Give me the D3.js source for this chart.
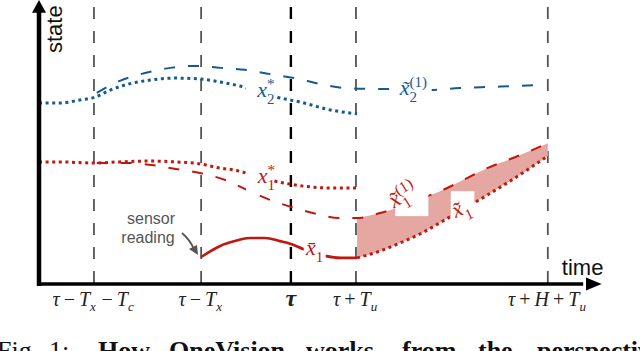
<!DOCTYPE html>
<html>
<head>
<meta charset="utf-8">
<script src="https://cdn.jsdelivr.net/npm/d3@7"></script>
<style>
  body { margin: 0; background: #fff; }
  svg { display: block; }
</style>
</head>
<body>
<div id="chart"></div>
<script>
// time marks on the horizontal axis (time units, axis origin = 0)
const markTimes = [9.8, 28.9, 44.9, 56.5, 90.7];
const markLabels = ['τ−T_x−T_c', 'τ−T_x', 'τ', 'τ+T_u', 'τ+H+T_u'];

// x2* : optimal state 2 (dotted blue)
const x2OptT = [0, 3.7, 7.3, 10.0, 12.7, 16.8, 19.8, 23.9, 28.7, 32.3, 35.8, 39.4, 43.0, 46.5, 51.9, 56.7];
const x2OptS = [63.7, 63.7, 64.8, 65.8, 68.3, 70.8, 71.8, 72.5, 72.2, 71.1, 69.7, 67.6, 65.5, 64.1, 61.3, 59.9];

// x~2^(1) : planned state 2 (dashed blue)
const x2PlanT = [10.3, 14.4, 18.9, 23.4, 27.8, 32.3, 36.7, 41.2, 45.6, 50.1, 54.5, 59.0, 63.5, 69.7, 75.0, 80.4, 84.8, 89.3];
const x2PlanS = [67.3, 71.5, 74.3, 76.1, 76.8, 76.1, 75.4, 73.9, 72.5, 70.4, 69.0, 68.7, 68.7, 68.3, 69.0, 69.4, 69.7, 70.1];

// x1* : optimal state 1 (dotted red)
const x1OptT = [0, 3.7, 9.6, 14.4, 19.8, 24.2, 28.7, 32.3, 34.9, 38.1, 41.2, 44.7, 48.3, 51.9, 56.7];
const x1OptS = [43.0, 43.0, 42.6, 43.0, 43.3, 43.0, 42.3, 40.8, 40.1, 38.4, 36.6, 35.2, 34.2, 33.8, 33.8];

// x~1^(1) : planned state 1 (dashed red)
const x1PlanT = [10.3, 15.9, 20.1, 24.4, 28.7, 33.2, 37.1, 41.2, 45.5, 49.6, 53.5, 56.7, 60.8, 64.3, 67.9, 72.0, 76.3, 79.9, 84.0, 87.5, 90.7];
const x1PlanS = [42.6, 42.6, 41.9, 40.5, 39.1, 36.6, 33.1, 29.6, 26.8, 24.6, 23.2, 23.2, 25.0, 27.1, 29.9, 33.1, 37.3, 40.8, 44.0, 46.8, 49.6];

// x~1 : new prediction of state 1 (dotted red, after tau+Tu)
const x1PredT = [56.7, 60.8, 64.3, 67.9, 72.0, 76.3, 79.9, 84.0, 87.5, 90.7];
const x1PredS = [9.2, 11.6, 14.4, 17.6, 22.2, 27.1, 31.3, 36.3, 40.8, 45.1];

// x-bar 1 : measured state 1 (solid red)
const x1MeasT = [28.9, 32.3, 34.9, 37.6, 40.3, 43.0, 44.9, 47.1, 51.0, 53.7, 56.7];
const x1MeasS = [9.5, 13.4, 15.1, 16.2, 16.2, 15.1, 14.1, 12.3, 9.9, 9.2, 9.2];

const W = 640, H = 351;
const blue = '#175a93', red = '#c0170e', pink = '#e4a7a1', grey = '#555';

const svg = d3.select('#chart').append('svg')
  .attr('width', W)
  .attr('height', H);

const x = d3.scaleLinear().domain([0, 100]).range([39, 600]);
const y = d3.scaleLinear().domain([0, 100]).range([284, 0]);

const zip = (ts, ss) => ts.map((t, i) => ({t: t, s: ss[i]}));
const line = d3.line().x(d => x(d.t)).y(d => y(d.s)).curve(d3.curveMonotoneX);

// vertical dashed marks
svg.append('g').selectAll('line')
  .data(markTimes)
  .enter()
  .append('line')
  .attr('x1', d => x(d)).attr('x2', d => x(d))
  .attr('y1', y(97.5)).attr('y2', y(0))
  .style('stroke', (d, i) => i === 2 ? '#000' : grey)
  .style('stroke-width', (d, i) => i === 2 ? 2.4 : 1.8)
  .style('stroke-dasharray', '12,12');

// shaded band between plan and new prediction
const band = x1PredT.map((t, i) => ({t: t, lo: x1PredS[i], hi: x1PlanS[x1PlanS.length - x1PredT.length + i]}));
svg.append('path')
  .datum(band)
  .attr('d', d3.area().x(d => x(d.t)).y0(d => y(d.lo)).y1(d => y(d.hi)).curve(d3.curveMonotoneX))
  .style('fill', pink)
  .style('stroke', 'none');

const series = [
  {pts: zip(x2OptT, x2OptS), color: blue, dash: '3,3.6', width: 3},
  {pts: zip(x2PlanT, x2PlanS), color: blue, dash: '11,13', width: 2},
  {pts: zip(x1OptT, x1OptS), color: red, dash: '3,3.6', width: 3},
  {pts: zip(x1PlanT, x1PlanS), color: red, dash: '11,13', width: 2},
  {pts: zip(x1PredT, x1PredS), color: red, dash: '3,3.6', width: 3},
  {pts: zip(x1MeasT, x1MeasS), color: red, dash: null, width: 2.6}
];
svg.append('g').selectAll('path')
  .data(series)
  .enter()
  .append('path')
  .attr('d', d => line(d.pts))
  .style('fill', 'none')
  .style('stroke', d => d.color)
  .style('stroke-width', d => d.width)
  .style('stroke-dasharray', d => d.dash);

// curve labels, with white backing boxes
const labels = [
  {base: 'x', sub: '2', sup: '*', t: 38.9, s: 65.8, rot: 0, size: 22, color: blue, box: [36.9, 71.1, 5.0, 11.0]},
  {base: 'x\u0303', sub: '2', sup: '(1)', t: 64.3, s: 66.5, rot: 0, size: 22, color: blue, box: [63.8, 74.6, 6.2, 12.0]},
  {base: 'x', sub: '1', sup: '*', t: 39.0, s: 35.6, rot: 0, size: 22, color: red, box: [36.9, 42.3, 4.8, 10.2]},
  {base: 'x\u0304', sub: '1', sup: null, t: 47.6, s: 10.2, rot: 0, size: 22, color: red, box: [47.2, 16.9, 3.9, 9.5]},
  {base: 'x\u0303', sub: '1', sup: '(1)', t: 63.3, s: 26.6, rot: -32, size: 23, color: red, box: [63.5, 39.4, 5.9, 15.5]},
  {base: 'x\u0303', sub: '1', sup: null, t: 74.3, s: 23.2, rot: -25, size: 22, color: red, box: [73.4, 32.7, 4.2, 10.5]}
];
const mathFont = '"Liberation Serif", "DejaVu Serif", serif';
labels.forEach(l => {
  svg.append('rect')
    .attr('x', x(l.box[0])).attr('y', y(l.box[1]))
    .attr('width', x(l.box[0] + l.box[2]) - x(l.box[0]))
    .attr('height', y(l.box[1] - l.box[3]) - y(l.box[1]))
    .style('fill', '#fff');
  const g = svg.append('g')
    .attr('transform', 'translate(' + [x(l.t), y(l.s)] + ') rotate(' + l.rot + ')')
    .style('font-family', mathFont)
    .style('font-style', 'italic')
    .style('fill', l.color);
  const b = g.append('text').style('font-size', l.size + 'px').text(l.base);
  const w = b.node().getComputedTextLength();
  const small = Math.round(l.size * 0.68) + 'px';
  g.append('text').attr('x', w).attr('y', 7).style('font-size', small).style('font-style', 'normal').text(l.sub);
  if (l.sup) g.append('text').attr('x', w).attr('y', -8).style('font-size', small).style('font-style', 'normal').text(l.sup);
});

// time tick labels
const tickG = svg.append('g')
  .style('font-family', mathFont)
  .style('fill', '#222');
markLabels.forEach((lab, i) => {
  const txt = tickG.append('text')
    .attr('x', x(markTimes[i]))
    .attr('y', 306)
    .attr('text-anchor', 'middle')
    .style('font-size', '20px');
  let k = 0;
  while (k < lab.length) {
    const c = lab[k];
    if (c === '_') {
      txt.append('tspan').attr('dy', 5).style('font-size', '13px').style('font-style', 'italic').text(lab[k + 1]);
      txt.append('tspan').attr('dy', -5).text('\u200a');
      k += 2;
    } else if (c === '−' || c === '+') {
      txt.append('tspan').style('font-style', 'normal').text('\u2009' + c + '\u2009');
      k += 1;
    } else {
      txt.append('tspan')
        .style('font-style', 'italic')
        .style('font-weight', lab === 'τ' ? 'bold' : 'normal')
        .style('font-size', lab === 'τ' ? '24px' : null)
        .text(c);
      k += 1;
    }
  }
});

// axes with arrows
svg.append('line')
  .attr('x1', x(0)).attr('x2', x(0))
  .attr('y1', y(0) + 2).attr('y2', y(96))
  .style('stroke', '#000').style('stroke-width', 4.5);
svg.append('path')
  .attr('d', 'M' + [x(0) - 7, y(95.5)] + 'L' + [x(0), y(100)] + 'L' + [x(0) + 7, y(95.5)] + 'Z')
  .style('fill', '#000');
svg.append('line')
  .attr('x1', x(0) - 2).attr('x2', x(97))
  .attr('y1', y(0)).attr('y2', y(0))
  .style('stroke', '#000').style('stroke-width', 3.6);
svg.append('path')
  .attr('d', 'M' + [x(97.5), y(0) - 6.5] + 'L' + [x(100.3), y(0)] + 'L' + [x(97.5), y(0) + 6.5] + 'Z')
  .style('fill', '#000');

const sans = '"Liberation Sans", Arial, sans-serif';
svg.append('text')
  .attr('transform', 'translate(' + [x(0) + 23, y(0) - 231] + ') rotate(-90)')
  .style('font-family', sans).style('font-size', '22px').style('fill', '#111')
  .text('state');
svg.append('text')
  .attr('x', x(93.2)).attr('y', y(0) - 9)
  .style('font-family', sans).style('font-size', '22px').style('fill', '#111')
  .text('time');

// sensor reading annotation
const note = svg.append('g').style('font-family', sans).style('font-size', '16px').style('fill', grey);
note.append('text').attr('x', 151).attr('y', 224).attr('text-anchor', 'middle').text('sensor');
note.append('text').attr('x', 148).attr('y', 243).attr('text-anchor', 'middle').text('reading');
svg.append('path')
  .attr('d', 'M182,233 Q190,240 194,249')
  .style('fill', 'none').style('stroke', grey).style('stroke-width', 1.8);
svg.append('path')
  .attr('d', 'M189,249 L198,255 L197,245 Z')
  .style('fill', grey);

// caption (cut off at the bottom of the picture, as in the source figure)
const cap = svg.append('g').style('font-family', mathFont).style('font-size', '26px').style('fill', '#111');
cap.append('text').attr('x', -3).attr('y', 359).text('Fig.');
cap.append('text').attr('x', 49).attr('y', 359).text('1:');
[['How', 98], ['OneVision', 169], ['works', 306], ['from', 402], ['the', 478], ['perspective', 537]].forEach(w => {
  cap.append('text').attr('x', w[1]).attr('y', 359).style('font-weight', 'bold').text(w[0]);
});
</script>
</body>
</html>
